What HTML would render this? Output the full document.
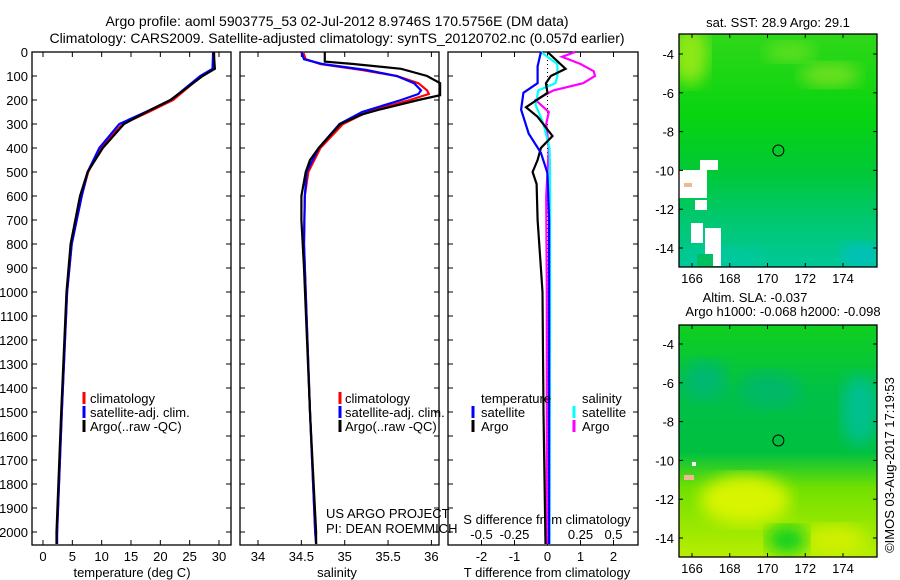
<!DOCTYPE html>
<html><head><meta charset="utf-8"><style>
body{margin:0;background:#fff;}
svg{display:block;font-family:"Liberation Sans",sans-serif;}
text{font-size:13px;fill:#000;}
</style></head><body>
<svg id="fig" width="900" height="580" viewBox="0 0 900 580" xmlns="http://www.w3.org/2000/svg">
<defs>
<linearGradient id="g1" x1="0" y1="0" x2="0" y2="1">
<stop offset="0" stop-color="#30d818"/><stop offset="0.35" stop-color="#08d410"/><stop offset="0.6" stop-color="#00c838"/><stop offset="0.8" stop-color="#00c870"/><stop offset="1" stop-color="#00c898"/>
</linearGradient>
<linearGradient id="g2" x1="0" y1="0" x2="0" y2="1">
<stop offset="0" stop-color="#10d020"/><stop offset="0.3" stop-color="#00c048"/><stop offset="0.55" stop-color="#00c040"/><stop offset="0.7" stop-color="#70e000"/><stop offset="1" stop-color="#b8ee00"/>
</linearGradient>
<filter id="bl"><feGaussianBlur stdDeviation="8"/></filter>
</defs>
<text x="337" y="26" text-anchor="middle" style="font-size:14px">Argo profile: aoml 5903775_53 02-Jul-2012 8.9746S 170.5756E (DM data)</text>
<text x="337" y="43" text-anchor="middle" style="font-size:14px">Climatology: CARS2009. Satellite-adjusted climatology: synTS_20120702.nc (0.057d earlier)</text>
<text x="778" y="27" text-anchor="middle">sat. SST: 28.9 Argo: 29.1</text>
<text x="755" y="302" text-anchor="middle">Altim. SLA: -0.037</text>
<text x="783" y="316" text-anchor="middle">Argo h1000: -0.068 h2000: -0.098</text>
<text transform="translate(894,465) rotate(-90)" text-anchor="middle">©IMOS 03-Aug-2017 17:19:53</text>
<g id="root"></g>
</svg>
<script>
// ---- data ----
const tDepth = [0, 70, 100, 150, 200, 250, 300, 400, 500, 600, 800, 1000, 1500, 2000, 2050];
const tClim  = [29.2, 29.1, 27.0, 24.6, 22.2, 18.0, 13.6, 9.8, 7.7, 6.6, 4.9, 4.1, 3.2, 2.4, 2.3];
const tSat   = [29.0, 28.9, 26.8, 24.3, 21.8, 17.5, 13.0, 9.6, 7.6, 6.6, 4.9, 4.1, 3.2, 2.4, 2.4];
const tArgo  = [29.1, 29.3, 27.2, 24.5, 21.7, 17.6, 13.8, 10.2, 7.6, 6.3, 4.7, 4.0, 3.1, 2.3, 2.3];
const sDepth = [0, 30, 50, 75, 100, 130, 160, 175, 200, 250, 300, 350, 400, 500, 600, 800, 1000, 1500, 2000, 2050];
const sClim  = [34.52, 34.55, 34.72, 35.2, 35.6, 35.85, 35.95, 35.97, 35.75, 35.26, 34.98, 34.85, 34.72, 34.58, 34.54, 34.53, 34.55, 34.6, 34.66, 34.67];
const sSat   = [34.50, 34.53, 34.74, 35.25, 35.6, 35.8, 35.88, 35.85, 35.65, 35.2, 34.94, 34.82, 34.7, 34.56, 34.54, 34.53, 34.55, 34.6, 34.66, 34.67];
const aDepth = [0, 40, 50, 70, 100, 130, 180, 200, 240, 260, 300, 400, 450, 500, 600, 700, 900, 1500, 2000, 2050];
const sArgo  = [34.77, 34.77, 35.1, 35.65, 35.95, 36.1, 36.1, 35.85, 35.4, 35.2, 34.95, 34.7, 34.6, 34.55, 34.5, 34.5, 34.53, 34.6, 34.67, 34.67];
const dDepth = [0, 60, 130, 170, 240, 340, 420, 505, 700, 1000, 2050];
const dTsat  = [-0.2, -0.3, -0.3, -0.73, -0.8, -0.57, -0.2, 0.0, 0.05, 0.05, 0.05];
const daDepth = [0, 70, 100, 130, 170, 230, 270, 350, 400, 450, 500, 550, 700, 900, 1000, 1500, 2050];
const dTargo = [0, 0.55, 0.1, -0.05, 0, -0.65, -0.3, 0.15, -0.2, -0.3, -0.45, -0.33, -0.3, -0.2, -0.15, -0.12, -0.06];
const dsDepth = [0, 50, 100, 130, 160, 220, 300, 400, 500, 1000, 2050];
const dSsat  = [-0.05, 0.075, 0.075, 0.06, -0.07, -0.09, -0.03, 0.015, 0.02, 0.02, 0.015];
const dmDepth = [0, 20, 50, 80, 100, 130, 160, 200, 250, 300, 400, 500, 600, 1000, 2050];
const dSargo = [0.21, 0.11, 0.25, 0.35, 0.36, 0.27, 0.045, -0.09, 0.01, -0.01, 0.01, 0.0, -0.01, -0.005, -0.005];
const depthTicks = [0,100,200,300,400,500,600,700,800,900,1000,1100,1200,1300,1400,1500,1600,1700,1800,1900,2000];
const tTicks = [0,5,10,15,20,25,30];
const sTicks = [34,34.5,35,35.5,36];
const dtTicks = [-2,-1,0,1,2];
const dsTicks = [-0.5,-0.25,0,0.25,0.5];
const lonTicks = [166,168,170,172,174];
const latTicks = [-4,-6,-8,-10,-12,-14];
const profLon = [170.5756];
const profLat = [-8.9746];

const NS='http://www.w3.org/2000/svg';
const root=document.getElementById('root');
function mk(tag, parent){const e=document.createElementNS(NS,tag);(parent||root).appendChild(e);return e;}
function yD(d){return 52 + d*0.24;}
function lin(d0,d1,p0,p1){return v=>p0+(v-d0)*(p1-p0)/(d1-d0);}
const xT=lin(0,30,43,219);
const xS=lin(34,36,258,431.4);
const xDT=lin(0,2,547.5,613.5);
const xDS=lin(0,0.5,547.5,613.5);

function box(x0,y0,x1,y1,name){
  const r=mk('rect');
  
  
  r.setAttribute('x',x0);r.setAttribute('y',y0);r.setAttribute('width',x1-x0);r.setAttribute('height',y1-y0);
  r.setAttribute('fill','none');r.setAttribute('stroke','#000');r.setAttribute('stroke-width','1.3');
}
function tline(x1,y1,x2,y2){const l=mk('line');l.setAttribute('x1',x1);l.setAttribute('y1',y1);l.setAttribute('x2',x2);l.setAttribute('y2',y2);l.setAttribute('stroke','#000');l.setAttribute('stroke-width','1');return l;}
function txt(x,y,s,anchor,name){
  const t=mk('text');
  
  
  t.setAttribute('x',x);t.setAttribute('y',y);t.setAttribute('text-anchor',anchor||'start');t.textContent=s;return t;
}
function series(depths,vals,xf,color,name,w){
  const p=mk('polyline');
  
  
  p.setAttribute('points',depths.map((d,i)=>xf(vals[i]).toFixed(1)+','+yD(d).toFixed(1)).join(' '));
  p.setAttribute('fill','none');p.setAttribute('stroke',color);p.setAttribute('stroke-width',w||2.2);
}
function legendMark(x,y,color){const l=tline(x,y-11,x,y+1);l.setAttribute('stroke',color);l.setAttribute('stroke-width','3');
  
  }

const panels=[[32,231,'temperature-panel'],[240,439,'salinity-panel'],[448,638,'difference-panel']];
panels.forEach(p=>{box(p[0],52,p[1],545,p[2]);});
depthTicks.forEach(d=>{
  tline(32,yD(d),37,yD(d));tline(231,yD(d),226,yD(d));
  tline(240,yD(d),245,yD(d));tline(439,yD(d),434,yD(d));
  tline(448,yD(d),453,yD(d));tline(638,yD(d),633,yD(d));
  txt(28,yD(d)+5,String(d),'end','depth-tick-label');
});
tTicks.forEach(v=>{tline(xT(v),545,xT(v),540);tline(xT(v),52,xT(v),57);txt(xT(v),561,String(v),'middle','temp-tick-label');});
sTicks.forEach(v=>{tline(xS(v),545,xS(v),540);tline(xS(v),52,xS(v),57);txt(xS(v),561,String(v),'middle','salinity-tick-label');});
dtTicks.forEach(v=>{tline(xDT(v),545,xDT(v),540);tline(xDT(v),52,xDT(v),57);txt(xDT(v),561,String(v),'middle','tdiff-tick-label');});
dsTicks.forEach(v=>{txt(xDS(v),539,String(v),'middle','sdiff-tick-label');});
txt(132,577,'temperature (deg C)','middle','temp-axis-title');
txt(337,577,'salinity','middle','salinity-axis-title');
txt(547,577,'T difference from climatology','middle','tdiff-axis-title');
txt(547,524,'S difference from climatology','middle','sdiff-axis-title');
const z=tline(xDT(0),52,xDT(0),545);z.setAttribute('stroke-dasharray','1,3');



series(tDepth,tClim,xT,'#f00','temp-climatology');
series(tDepth,tSat,xT,'#00f','temp-satellite');
series(tDepth,tArgo,xT,'#000','temp-argo');
series(sDepth,sClim,xS,'#f00','sal-climatology');
series(sDepth,sSat,xS,'#00f','sal-satellite');
series(aDepth,sArgo,xS,'#000','sal-argo');
series(dmDepth,dSargo,xDS,'#f0f','sdiff-argo');
series(dsDepth,dSsat,xDS,'#0ff','sdiff-satellite');
series(daDepth,dTargo,xDT,'#000','tdiff-argo');
series(dDepth,dTsat,xDT,'#00f','tdiff-satellite');

[[84,90],[340,345]].forEach(p=>{
  legendMark(p[0],403,'#f00');txt(p[1],403,'climatology','start','legend-climatology');
  legendMark(p[0],417,'#00f');txt(p[1],417,'satellite-adj. clim.','start','legend-satellite');
  legendMark(p[0],431,'#000');txt(p[1],431,'Argo(..raw -QC)','start','legend-argo');
});
txt(481,403,'temperature','start','legend-temperature-header');
legendMark(473,417,'#00f');txt(481,417,'satellite','start','legend-t-satellite');
legendMark(473,431,'#000');txt(481,431,'Argo','start','legend-t-argo');
txt(582,403,'salinity','start','legend-salinity-header');
legendMark(574,417,'#0ff');txt(582,417,'satellite','start','legend-s-satellite');
legendMark(574,431,'#f0f');txt(582,431,'Argo','start','legend-s-argo');
txt(326,518,'US ARGO PROJECT','start','project-label');
txt(326,533,'PI: DEAN ROEMMICH','start','pi-label');

function map(y0,y1,latY4,latY14,grad,name,extra){
  const mx=lin(166,174,692,843);
  const my=lin(-4,-14,latY4,latY14);
  const g=mk('g');
  
  
  const cp=mk('clipPath',g);cp.setAttribute('id','cp'+name);
  const cr=mk('rect',cp);cr.setAttribute('x',679);cr.setAttribute('y',y0);cr.setAttribute('width',198);cr.setAttribute('height',y1-y0);
  const inner=mk('g',g);inner.setAttribute('clip-path','url(#cp'+name+')');
  const bg=mk('rect',inner);bg.setAttribute('x',679);bg.setAttribute('y',y0);bg.setAttribute('width',198);bg.setAttribute('height',y1-y0);bg.setAttribute('fill','url(#'+grad+')');
  extra(inner,mx,my);
  box(679,y0,877,y1,name+'-frame');
  lonTicks.forEach(v=>{tline(mx(v),y0,mx(v),y0+4);tline(mx(v),y1,mx(v),y1-4);txt(mx(v),y1+16,String(v),'middle','lon-tick-label');});
  latTicks.forEach(v=>{tline(679,my(v),683,my(v));tline(877,my(v),873,my(v));txt(674,my(v)+5,String(v),'end','lat-tick-label');});
  const c=mk('circle',g);
  
  
  c.setAttribute('cx',mx(profLon[0]));c.setAttribute('cy',my(profLat[0]));c.setAttribute('r',5.5);c.setAttribute('fill','none');c.setAttribute('stroke','#000');
}
function blob(p,cx,cy,rx,ry,col){const e=mk('ellipse',p);e.setAttribute('cx',cx);e.setAttribute('cy',cy);e.setAttribute('rx',rx);e.setAttribute('ry',ry);e.setAttribute('fill',col);e.setAttribute('filter','url(#bl)');}
function wrect(p,x,y,w,h,col){const r=mk('rect',p);r.setAttribute('x',x);r.setAttribute('y',y);r.setAttribute('width',w);r.setAttribute('height',h);r.setAttribute('fill',col);}
map(34,267,54,248,'g1','sst-map',(p,mx,my)=>{
  blob(p,690,55,18,30,'#90e818');
  blob(p,830,75,30,12,'#70e020');
  blob(p,790,52,25,10,'#60e020');
  blob(p,725,260,40,12,'#00c8a0');
  blob(p,860,255,20,12,'#00c0c0');
  wrect(p,679,170,28,28,'#fff');wrect(p,695,200,12,10,'#fff');wrect(p,700,160,18,10,'#fff');
  wrect(p,691,223,12,20,'#fff');wrect(p,705,228,16,38,'#fff');wrect(p,697,254,16,13,'#00c060');
  wrect(p,684,183,8,4,'#f0b890');
});
map(325,557,344,538,'g2','sla-map',(p,mx,my)=>{
  blob(p,705,380,22,20,'#00b870');
  blob(p,770,390,30,18,'#00b868');
  blob(p,860,410,18,35,'#00c090');
  blob(p,745,500,45,25,'#d8f400');
  blob(p,835,540,30,15,'#d0f000');
  blob(p,787,540,20,14,'#10d020');
  wrect(p,692,462,4,4,'#fff');wrect(p,684,475,10,5,'#f0b890');
});
</script>
</body></html>
